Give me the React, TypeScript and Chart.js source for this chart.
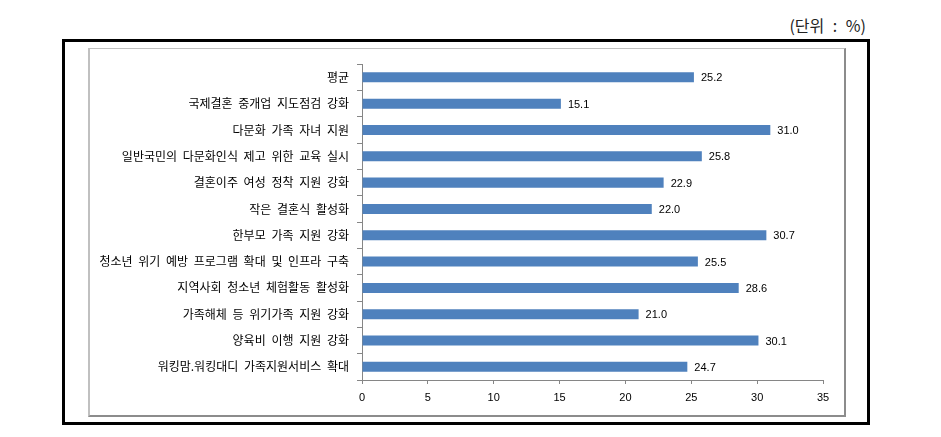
import React, { useEffect, useRef } from "react";
import { Chart, registerables } from "chart.js";

Chart.register(...registerables);

const categories = [
  "평균",
  "국제결혼 중개업 지도점검 강화",
  "다문화 가족 자녀 지원",
  "일반국민의 다문화인식 제고 위한 교육 실시",
  "결혼이주 여성 정착 지원 강화",
  "작은 결혼식 활성화",
  "한부모 가족 지원 강화",
  "청소년 위기 예방 프로그램 확대 및 인프라 구축",
  "지역사회 청소년 체험활동 활성화",
  "가족해체 등 위기가족 지원 강화",
  "양육비 이행 지원 강화",
  "워킹맘.워킹대디 가족지원서비스 확대",
];
const values = [25.2, 15.1, 31.0, 25.8, 22.9, 22.0, 30.7, 25.5, 28.6, 21.0, 30.1, 24.7];
const xMin = 0;
const xMax = 35;
const xStep = 5;
const unitLabel = "(단위 : %)";

const spacingPlugin = {
  id: "wordSpacing",
  beforeDraw(chart: any) {
    (chart.ctx as any).wordSpacing = "3px";
  },
  afterDraw(chart: any) {
    (chart.ctx as any).wordSpacing = "0px";
  },
};

const valueLabelPlugin = {
  id: "valueLabels",
  afterDatasetsDraw(chart: any) {
    const ctx = chart.ctx;
    const meta = chart.getDatasetMeta(0);
    ctx.save();
    (ctx as any).wordSpacing = "0px";
    ctx.font = "11px 'Liberation Sans', Arial, sans-serif";
    ctx.fillStyle = "#000";
    ctx.textAlign = "left";
    ctx.textBaseline = "middle";
    meta.data.forEach((bar: any, i: number) => {
      ctx.fillText(values[i].toFixed(1), bar.x + 7, bar.y + 1);
    });
    ctx.restore();
  },
};

export default function App() {
  const canvasRef = useRef<HTMLCanvasElement | null>(null);

  useEffect(() => {
    if (!canvasRef.current) return;
    const chart = new Chart(canvasRef.current, {
      type: "bar",
      data: {
        labels: categories,
        datasets: [
          {
            data: values,
            backgroundColor: "#4F81BD",
            borderWidth: 0,
            barPercentage: 0.38,
            categoryPercentage: 1,
          },
        ],
      },
      options: {
        indexAxis: "y",
        animation: false,
        responsive: false,
        maintainAspectRatio: false,
        layout: { padding: { left: 0, right: 21, top: 14, bottom: 0 } },
        plugins: {
          legend: { display: false },
          tooltip: { enabled: false },
          title: { display: false },
        },
        scales: {
          y: {
            type: "category",
            afterFit: (scale: any) => {
              scale.width = 272;
            },
            grid: {
              display: true,
              offset: true,
              drawOnChartArea: false,
              drawTicks: true,
              tickLength: 5,
              color: "#868686",
            },
            border: { display: true, color: "#868686", width: 1 },
            ticks: {
              color: "#000",
              padding: 8,
              font: { family: "'Noto Sans CJK KR', sans-serif", size: 12 },
            },
          },
          x: {
            type: "linear",
            min: xMin,
            max: xMax,
            afterFit: (scale: any) => {
              scale.height = 35;
            },
            grid: {
              display: true,
              drawOnChartArea: false,
              drawTicks: true,
              tickLength: 4,
              color: "#868686",
            },
            border: { display: true, color: "#868686", width: 1 },
            ticks: {
              stepSize: xStep,
              color: "#000",
              padding: 7,
              maxRotation: 0,
              font: { family: "'Liberation Sans', Arial, sans-serif", size: 11 },
            },
          },
        },
      },
      plugins: [spacingPlugin, valueLabelPlugin],
    });
    return () => chart.destroy();
  }, []);

  return (
    <div style={{ position: "fixed", left: 0, top: 0, width: 941, height: 437, background: "#fff" }}>
      <div
        style={{
          position: "absolute",
          right: 941 - 866,
          top: 13,
          fontFamily: "'Noto Sans CJK KR', sans-serif",
          fontSize: 16,
          wordSpacing: 5,
          color: "#222",
          lineHeight: "24px",
          whiteSpace: "nowrap",
        }}
      >
        {unitLabel}
      </div>
      <div
        style={{
          position: "absolute",
          left: 62,
          top: 39,
          width: 802,
          height: 380,
          border: "3px solid #000",
        }}
      />
      <div
        style={{
          position: "absolute",
          left: 88,
          top: 48,
          width: 754,
          height: 366,
          borderTop: "1px solid #c0c0c0",
          borderLeft: "2px solid #c0c0c0",
          borderRight: "2px solid #8c8c8c",
          borderBottom: "2px solid #8c8c8c",
        }}
      >
        <canvas ref={canvasRef} width={754} height={366} style={{ display: "block" }} />
      </div>
    </div>
  );
}
